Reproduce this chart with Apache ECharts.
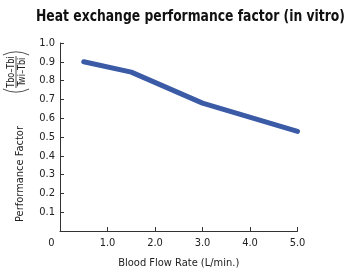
<!DOCTYPE html>
<html>
<head>
<meta charset="utf-8">
<script src="https://cdn.jsdelivr.net/npm/echarts@6/dist/echarts.min.js"></script>
<style>
  html, body { margin: 0; padding: 0; background: #fff; }
  #chart { width: 349px; height: 274px; }
</style>
</head>
<body>
<div id="chart"></div>
<script>
// values
const flowRates = [0.5, 1.5, 3.0, 5.0];       // L/min
const factors = [0.9, 0.845, 0.68, 0.53];     // performance factor
const xTicks = [0, 1, 2, 3, 4, 5];
const yTicks = [0.1, 0.2, 0.3, 0.4, 0.5, 0.6, 0.7, 0.8, 0.9, 1.0];
const titleText = 'Heat exchange performance factor (in vitro)';

const FONT = '"Liberation Sans Narrow", "DejaVu Sans Condensed", sans-serif';
const INK = '#222';

// no narrow bold face installed, so squeeze the title to the reference width
const titleFont = 'bold 16px ' + FONT;
const ctx = document.createElement('canvas').getContext('2d');
ctx.font = titleFont;
const titleScale = 309 / ctx.measureText(titleText).width;

const chart = echarts.init(document.getElementById('chart'), null, { renderer: 'canvas' });

// rotated y axis name: "Performance Factor" + (Tbo-Tbi)/(Twi-Tbi)
const yName = {
  type: 'group',
  x: 20, y: 222,
  rotation: Math.PI / 2,
  children: [
    { type: 'text', x: 0, y: 0,
      style: { text: 'Performance Factor', font: '11px ' + FONT, fill: INK, align: 'left', verticalAlign: 'middle' } },
    { type: 'text', x: 150, y: -9, scaleX: 0.9,
      style: { text: 'Tbo\u2013Tbi', font: '10px ' + FONT, fill: INK, align: 'center', verticalAlign: 'middle' } },
    { type: 'line', shape: { x1: 134, y1: -4, x2: 166, y2: -4 }, style: { stroke: INK, lineWidth: 0.8 } },
    { type: 'text', x: 150, y: 2, scaleX: 0.9,
      style: { text: 'Twi\u2013Tbi', font: '10px ' + FONT, fill: INK, align: 'center', verticalAlign: 'middle' } },
    { type: 'arc', shape: { cx: 160, cy: -4, r: 30, startAngle: Math.PI - 0.45, endAngle: Math.PI + 0.45 },
      style: { stroke: INK, lineWidth: 0.8, fill: null } },
    { type: 'arc', shape: { cx: 140, cy: -4, r: 30, startAngle: -0.45, endAngle: 0.45 },
      style: { stroke: INK, lineWidth: 0.8, fill: null } }
  ]
};

const title = {
  type: 'text', x: 190.5, y: 17, scaleX: titleScale,
  style: { text: titleText, font: titleFont, fill: '#111', align: 'center', verticalAlign: 'middle' }
};

chart.setOption({
  animation: false,
  grid: { left: 60, right: 51.5, top: 43, bottom: 42.5, containLabel: false },
  xAxis: {
    type: 'value', min: 0, max: 5, interval: 1,
    name: 'Blood Flow Rate (L/min.)', nameLocation: 'middle', nameGap: 27,
    nameTextStyle: { fontFamily: FONT, fontSize: 11, color: INK },
    axisLine: { show: true, lineStyle: { color: '#333', width: 1 } },
    axisTick: { show: true, inside: true, length: 4, lineStyle: { color: '#333' } },
    axisLabel: {
      margin: 7, fontFamily: FONT, fontSize: 11, color: INK,
      formatter: v => v === 0 ? '{z|0}' : v.toFixed(1),
      rich: { z: { fontFamily: FONT, fontSize: 11, color: INK, padding: [0, 17, 0, 0] } }
    },
    splitLine: { show: false }
  },
  yAxis: {
    type: 'value', min: 0, max: 1, interval: 0.1,
    axisLine: { show: true, lineStyle: { color: '#333', width: 1 } },
    axisTick: { show: true, inside: true, length: 4, lineStyle: { color: '#333' } },
    axisLabel: {
      margin: 5, fontFamily: FONT, fontSize: 11, color: INK,
      formatter: v => yTicks.some(t => Math.abs(t - v) < 1e-6) ? v.toFixed(1) : ''
    },
    splitLine: { show: false }
  },
  series: [{
    type: 'line',
    data: flowRates.map((x, i) => [x, factors[i]]),
    showSymbol: false,
    lineStyle: { color: '#3b5ba6', width: 5, cap: 'round', join: 'round' }
  }],
  graphic: [title, yName]
});
</script>
</body>
</html>
